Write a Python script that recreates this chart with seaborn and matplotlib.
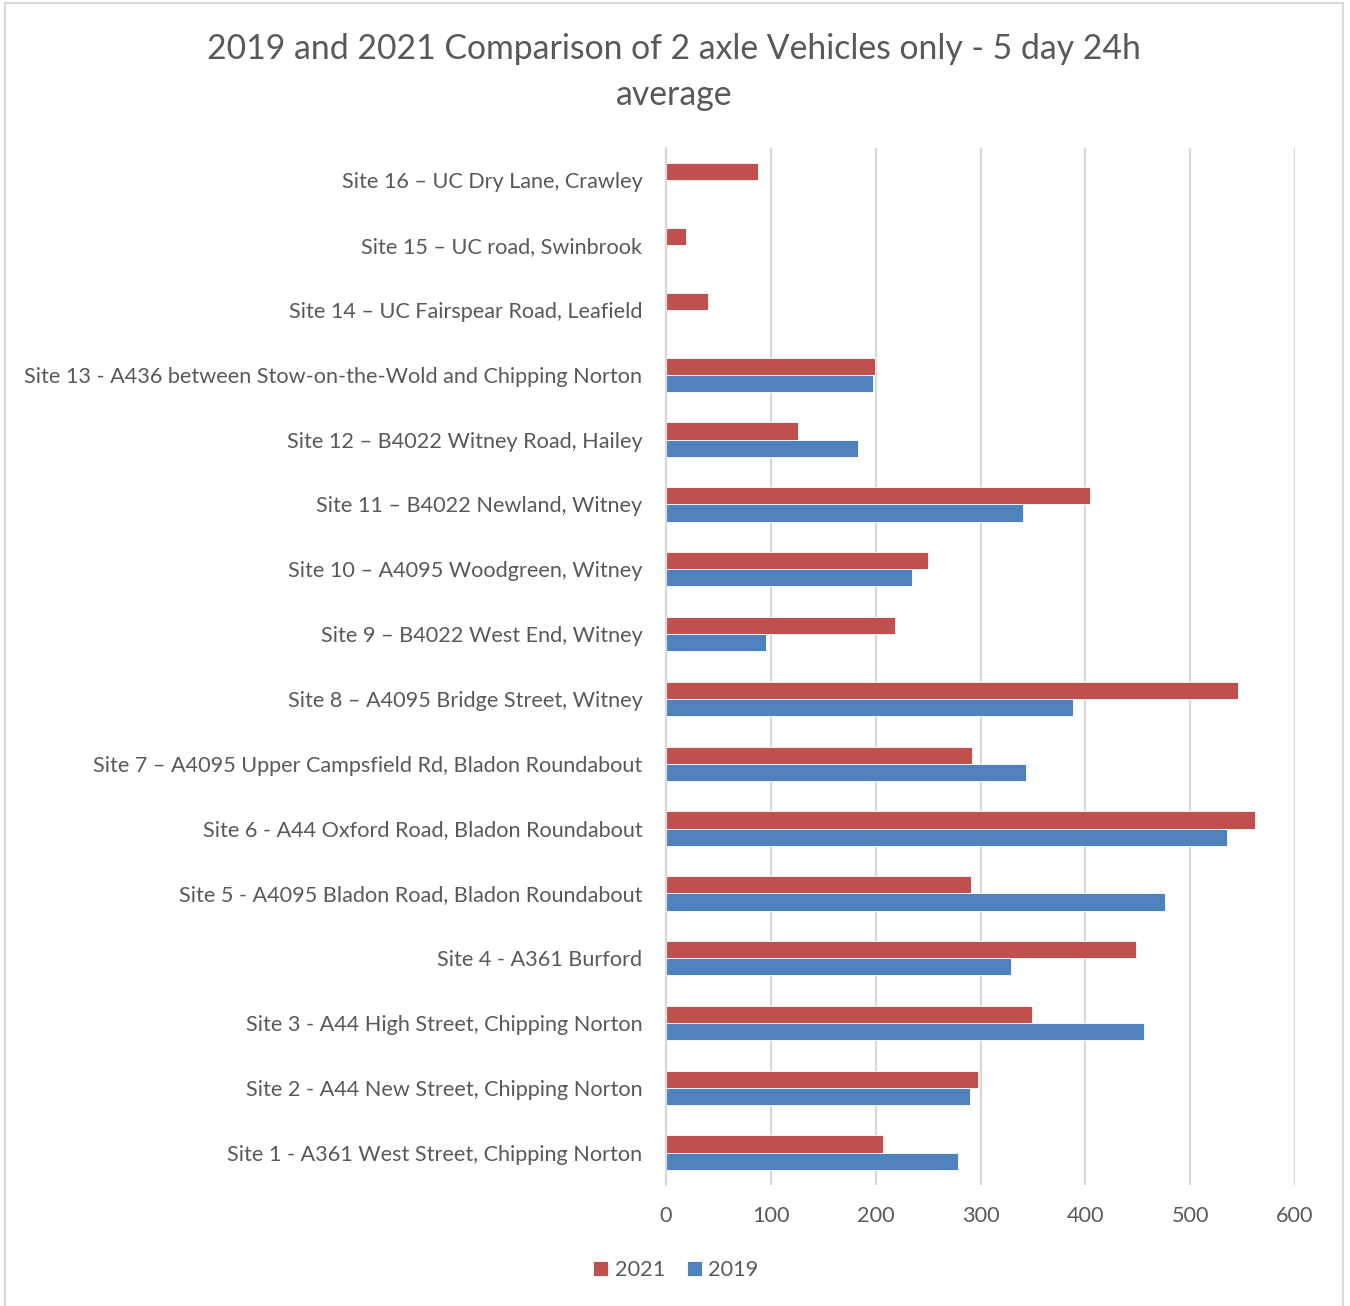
import numpy as np
import pandas as pd
import matplotlib
matplotlib.use("Agg")
import matplotlib.pyplot as plt
import seaborn as sns
from matplotlib.patches import Rectangle

sites = [
    "Site 16 \u2013 UC Dry Lane, Crawley",
    "Site 15 \u2013 UC road, Swinbrook",
    "Site 14 \u2013 UC Fairspear Road, Leafield",
    "Site 13 - A436 between Stow-on-the-Wold and Chipping Norton",
    "Site 12 \u2013 B4022 Witney Road, Hailey",
    "Site 11 \u2013 B4022 Newland, Witney",
    "Site 10 \u2013 A4095 Woodgreen, Witney",
    "Site 9 \u2013 B4022 West End, Witney",
    "Site 8 \u2013 A4095 Bridge Street, Witney",
    "Site 7 \u2013 A4095 Upper Campsfield Rd, Bladon Roundabout",
    "Site 6 - A44 Oxford Road, Bladon Roundabout",
    "Site 5 - A4095 Bladon Road, Bladon Roundabout",
    "Site 4 - A361 Burford",
    "Site 3 - A44 High Street, Chipping Norton",
    "Site 2 - A44 New Street, Chipping Norton",
    "Site 1 - A361 West Street, Chipping Norton",
]
v2021 = [88, 19, 40, 199, 126, 404, 250, 218, 546, 292, 562, 291, 448, 349, 298, 207]
v2019 = [np.nan, np.nan, np.nan, 197, 183, 341, 235, 95, 388, 343, 535, 476, 329, 456, 290, 279]
series = ["2021", "2019"]
colors = ["#C0504D", "#4F81BD"]
xticks = [0, 100, 200, 300, 400, 500, 600]
title = "2019 and 2021 Comparison of 2 axle Vehicles only - 5 day 24h\naverage"

df = pd.DataFrame({
    "site": sites * 2,
    "value": v2021 + v2019,
    "year": ["2021"] * len(sites) + ["2019"] * len(sites),
})

sns.set_theme(style="white")
plt.rcParams['font.family'] = ['Lato', 'DejaVu Sans']

fig = plt.figure(figsize=(13.5, 13.06), dpi=100)
ax = fig.add_axes([666/1350, 1 - 1185/1306, (1295-666)/1350, (1185-148)/1306])

sns.barplot(data=df, y="site", x="value", hue="year", order=sites, hue_order=series,
            palette=colors, orient="h", width=0.53, ax=ax, saturation=1,
            edgecolor="white", linewidth=0.6, legend=True)

ax.set_xlim(0, 600)
ax.set_ylim(len(sites) - 0.5, -0.5)
ax.set_xticks(xticks)
ax.set_xticklabels([str(t) for t in xticks])
ax.xaxis.grid(True, color="#D9D9D9", linewidth=1.6)
ax.set_axisbelow(True)
for s in ["top", "right", "bottom"]:
    ax.spines[s].set_visible(False)
ax.spines["left"].set_color("#D9D9D9")
ax.spines["left"].set_linewidth(1.6)
ax.tick_params(axis="both", length=0, colors="#595959", labelsize=15.6)
ax.tick_params(axis="y", pad=17)
ax.tick_params(axis="x", pad=15)
ax.set_xlabel("")
ax.set_ylabel("")

leg = ax.legend(loc="center", bbox_to_anchor=(676/1350, 1 - 1270/1306),
                bbox_transform=fig.transFigure, ncol=2, frameon=False,
                fontsize=15.6, handlelength=0.7, handleheight=0.7,
                columnspacing=1.0, handletextpad=0.3)
for t in leg.get_texts():
    t.set_color("#595959")

fig.text(674/1350, 1 - 72/1306, title, ha="center", va="center",
         fontsize=24.3, color="#595959", linespacing=1.55)

fig.patches.append(Rectangle((5/1350, -0.01), 1338/1350, 1.0 - 3/1306 + 0.01,
                             transform=fig.transFigure, fill=False,
                             edgecolor="#D9D9D9", linewidth=1.5))

fig.savefig("out.png", dpi=100)
